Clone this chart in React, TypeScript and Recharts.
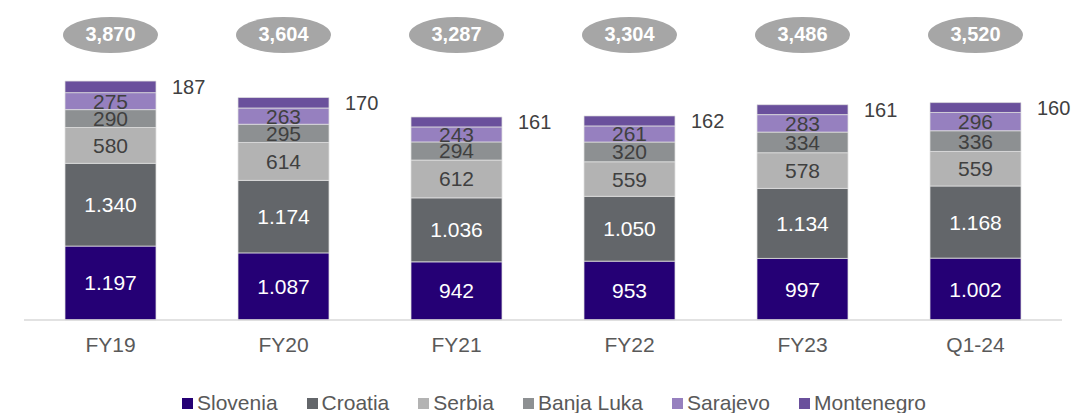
import React from 'react';
import { BarChart, Bar, XAxis, YAxis, LabelList } from 'recharts';

const categories = ['FY19', 'FY20', 'FY21', 'FY22', 'FY23', 'Q1-24'];
const slovenia = [1197, 1087, 942, 953, 997, 1002];
const croatia = [1340, 1174, 1036, 1050, 1134, 1168];
const serbia = [580, 614, 612, 559, 578, 559];
const banjaLuka = [290, 295, 294, 320, 334, 336];
const sarajevo = [275, 263, 243, 261, 283, 296];
const montenegro = [187, 170, 161, 162, 161, 160];
const totals = ['3,870', '3,604', '3,287', '3,304', '3,486', '3,520'];

const series = [
  { key: 'slovenia', name: 'Slovenia', color: '#250075', text: '#ffffff' },
  { key: 'croatia', name: 'Croatia', color: '#63666a', text: '#ffffff' },
  { key: 'serbia', name: 'Serbia', color: '#b3b3b3', text: '#404040' },
  { key: 'banjaLuka', name: 'Banja Luka', color: '#8d9092', text: '#404040' },
  { key: 'sarajevo', name: 'Sarajevo', color: '#9680bf', text: '#404040' },
  { key: 'montenegro', name: 'Montenegro', color: '#6a509c', text: '#404040' },
];

const data = categories.map((name, i) => ({
  name,
  slovenia: slovenia[i],
  croatia: croatia[i],
  serbia: serbia[i],
  banjaLuka: banjaLuka[i],
  sarajevo: sarajevo[i],
  montenegro: montenegro[i],
  total: totals[i],
}));

const FONT = '"Liberation Sans", Arial, sans-serif';

// 1197 -> "1.197"
const fmt = (v: any) => {
  const n = Number(v);
  return n >= 1000 ? `${Math.floor(n / 1000)}.${String(n % 1000).padStart(3, '0')}` : String(n);
};

const TotalBubble = (props: any) => {
  const { x, width, value } = props;
  const cx = Number(x) + Number(width) / 2;
  return (
    <g>
      <ellipse cx={cx} cy={35} rx={47.5} ry={18} fill="#a6a6a6" />
      <text x={cx} y={36} textAnchor="middle" dominantBaseline="middle" fill="#ffffff"
        fontSize={20} fontWeight="bold" fontFamily={FONT}>{value}</text>
    </g>
  );
};

const SideLabel = (props: any) => {
  const { x, y, width, height, value } = props;
  return (
    <text x={Number(x) + Number(width) + 16} y={Number(y) + Number(height) / 2 + 2}
      dominantBaseline="middle" fill="#404040" fontSize={20} fontFamily={FONT}>{value}</text>
  );
};

const App: React.FC = () => {
  const seg = { stackId: 'a', barSize: 91, stroke: '#e0e0e0', strokeWidth: 0.75, isAnimationActive: false };
  return (
    <div style={{ position: 'absolute', left: 0, top: 0, width: 1071, height: 413, background: '#fff' }}>
      <BarChart width={1071} height={413} data={data}
        margin={{ top: 73, right: 9, left: 24, bottom: 63 }}>
        <XAxis dataKey="name" axisLine={{ stroke: '#d9d9d9', strokeWidth: 1.5 }} tickLine={false}
          tick={{ fill: '#595959', fontSize: 21, fontFamily: FONT }} tickMargin={11} />
        <YAxis hide domain={[0, 4000]} />
        {series.map((s) => (
          <Bar key={s.key} {...seg} dataKey={s.key} name={s.name} fill={s.color}>
            {s.key === 'montenegro' ? (
              <LabelList dataKey={s.key} content={SideLabel} />
            ) : (
              <LabelList dataKey={s.key} position="center" fill={s.text} fontSize={21}
                fontFamily={FONT} formatter={fmt} />
            )}
            {s.key === 'montenegro' && <LabelList dataKey="total" content={TotalBubble} />}
          </Bar>
        ))}
      </BarChart>
      <div style={{ position: 'absolute', left: 182, top: 391, display: 'flex', alignItems: 'center',
        fontFamily: FONT, fontSize: 21, color: '#595959', whiteSpace: 'nowrap' }}>
        {series.map((s) => (
          <span key={s.key} style={{ display: 'flex', alignItems: 'center', marginRight: 29 }}>
            <span style={{ width: 11, height: 11, background: s.color, marginRight: 4, display: 'inline-block' }} />
            {s.name}
          </span>
        ))}
      </div>
    </div>
  );
};

export default App;
